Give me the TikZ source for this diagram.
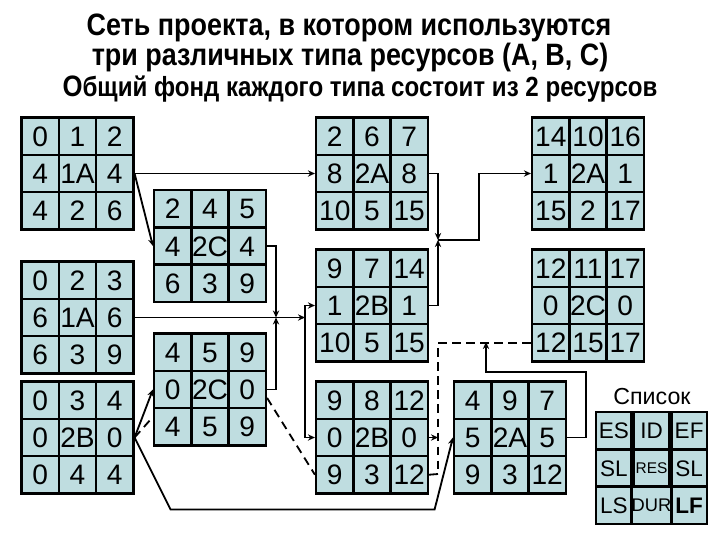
\documentclass[tikz,border=0pt]{standalone}
\usepackage{fontspec}
\setmainfont{Liberation Sans}
\newfontfamily\titlefont{Liberation Sans}[FakeStretch=0.87]
\usetikzlibrary{matrix, arrows.meta}
\definecolor{cellfill}{RGB}{191,221,224}

\begin{document}
\begin{tikzpicture}[
  x=0.025cm, y=-0.025cm,
  >={Stealth[length=5pt,width=4.5pt]},
  cell/.style={
    draw, fill=cellfill, line width=1.8pt, anchor=center,
    minimum width=0.93cm, minimum height=0.93cm, inner sep=0pt,
    text height=14.4pt, text depth=0pt,
    font=\fontsize{20}{20}\selectfont
  },
  taskbox/.style={
    matrix of nodes, nodes={cell},
    column sep=-1.8pt, row sep=-1.8pt, inner sep=0pt
  },
  keybox/.style={
    taskbox, nodes={cell, minimum width=0.89cm, text height=11.6pt,
      font=\fontsize{16}{16}\selectfont}
  },
  arrow/.style={->, line width=1.3pt},
  dashline/.style={line width=1.3pt, dash pattern=on 6pt off 4pt},
  title/.style={anchor=base, inner sep=0pt, text height=16pt, text depth=0pt,
    font=\titlefont\bfseries\fontsize{22}{23}\selectfont}
]
\useasboundingbox (0,0) rectangle (720,540);

% --- Title ---
\node[title] (t1) at (349,35) {Сеть проекта, в котором используются};
\node[title] (t2) at (350,65) {три различных типа ресурсов (A, B, C)};
\node[title, text height=14.5pt, font=\titlefont\bfseries\fontsize{19.7}{20}\selectfont] (t3) at (360,96)
  {{\fontsize{21}{22}\selectfont О}бщий фонд каждого типа состоит из 2 ресурсов};

% --- Column 1 ---
\matrix[taskbox] (b1) at (77.5,173.5) {0 & 1 & 2\\ 4 & 1A & 4\\ 4 & 2 & 6\\};
\matrix[taskbox] (b2) at (77.5,317.5) {0 & 2 & 3\\ 6 & 1A & 6\\ 6 & 3 & 9\\};
\matrix[taskbox] (b3) at (77.5,437.5) {0 & 3 & 4\\ 0 & 2B & 0\\ 0 & 4 & 4\\};

% --- Column 2 ---
\matrix[taskbox] (b4) at (210,246) {2 & 4 & 5\\ 4 & 2C & 4\\ 6 & 3 & 9\\};
\matrix[taskbox] (b5) at (210,389.5) {4 & 5 & 9\\ 0 & 2C & 0\\ 4 & 5 & 9\\};

% --- Column 3 ---
\matrix[taskbox] (b6) at (372,173.5) {2 & 6 & 7\\ 8 & 2A & 8\\ 10 & 5 & 15\\};
\matrix[taskbox] (b7) at (372,305.5) {9 & 7 & 14\\ 1 & 2B & 1\\ 10 & 5 & 15\\};
\matrix[taskbox] (b8) at (372,437.5) {9 & 8 & 12\\ 0 & 2B & 0\\ 9 & 3 & 12\\};

% --- Column 4 ---
\matrix[taskbox] (b9) at (510,437.5) {4 & 9 & 7\\ 5 & 2A & 5\\ 9 & 3 & 12\\};
\matrix[taskbox] (b10) at (588,173.5) {14 & 10 & 16\\ 1 & 2A & 1\\ 15 & 2 & 17\\};
\matrix[taskbox] (b11) at (588,305.5) {12 & 11 & 17\\ 0 & 2C & 0\\ 12 & 15 & 17\\};

% --- Legend ---
\node[font=\fontsize{16.5}{17}\selectfont] (keytitle) at (652,397) {Список};
\matrix[keybox] (key) at (651.5,468) {
  ES & ID & EF\\
  SL & |[font=\fontsize{11}{11}\selectfont, text height=8pt]| RES & SL\\
  LS & |[font=\fontsize{13}{13}\selectfont, text height=9.4pt]| DUR
     & |[font=\fontsize{16}{16}\selectfont\bfseries]| LF\\
};

% junction points
\coordinate (j1) at (276,317.5);
\coordinate (j2) at (305,317.5);
\coordinate (j3) at (438,240);
\coordinate (j4) at (438,474);
\coordinate (j5) at (438,437.5);
\coordinate (j6) at (486,342);

% --- Connectors ---
\draw[arrow] (b1-2-3.east) -- (b6-2-1.west);
\draw[arrow] (b1-2-3.east) -- (b4-2-1.west);
\draw[arrow] (b4-2-3.east) -| (j1);
\draw[arrow] (b5-2-3.east) -| (j1);
\draw[arrow] (b2-2-3.east) -- (j2);
\draw[arrow] (j2) |- (b7-2-1.west);
\draw[arrow] (j2) |- (b8-2-1.west);

\draw[arrow] (b6-2-3.east) -| (j3);
\draw[arrow] (b7-2-3.east) -| (j3);
\draw[arrow] (j3) -- ++(41,0) |- (b10-2-1.west);

\draw[arrow] (b3-2-3.east) -- (b5-2-1.west);
\draw[dashline] (b3-2-3.east) -- ([yshift=7pt]b5-3-1.west);
\draw[arrow] (b3-2-3.east) -- ++(36,72) -- ++(264,0) -- (b9-2-1.west);
\draw[dashline] ([yshift=-6pt]b5-2-3.east) -- (b8-3-1.west);

\draw[dashline] (b11-3-1.west) -| (j4);
\draw[line width=1.3pt] (b8-3-3.east) -- (j4);
\draw[arrow] (b8-2-3.east) -- (j5);
\draw[arrow] (b9-2-3.east) -- ++(19,0) -- ++(0,-65.5) -| (j6);

\end{tikzpicture}
\end{document}
